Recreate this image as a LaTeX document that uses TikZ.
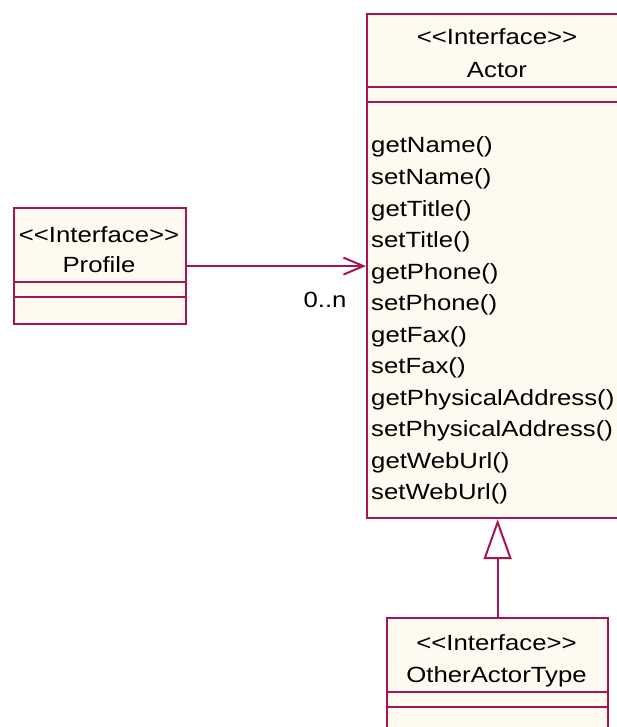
\documentclass[tikz,border=0pt]{standalone}
\usepackage{fontspec}
\setmainfont{Liberation Sans}[FakeStretch=1.17]
\usetikzlibrary{arrows.meta}
\definecolor{umlline}{RGB}{165,20,85}
\definecolor{umlfill}{RGB}{255,250,240}
% stereotype text without the TeX << >> ligatures
\newcommand{\stereo}[1]{<\kern0pt<#1>\kern0pt>}

\begin{document}
\begin{tikzpicture}[x=1pt,y=-1pt,
  classbox/.style={draw=umlline,fill=umlfill,line width=2.2pt,rectangle,
    inner sep=0pt,anchor=north west},
  sepline/.style={draw=umlline,line width=2.2pt},
  umltext/.style={inner sep=0pt,font=\fontsize{22}{26}\selectfont,text=black},
  assoc/.style={draw=umlline,line width=2pt,
    -{Straight Barb[length=20pt,width=17pt,line width=2pt]}},
  generalize/.style={draw=umlline,line width=2pt,
    -{Triangle[open,length=40pt,width=28pt,line width=2pt]}}
]
\useasboundingbox (0,0) rectangle (617,727);
\clip (0,0) rectangle (617,727);

% class boxes
\node[classbox,minimum width=262pt,minimum height=504pt] (actor) at (366,13) {};
\node[classbox,minimum width=172pt,minimum height=116pt] (profile) at (13,207) {};
\node[classbox,minimum width=221pt,minimum height=180pt] (other) at (386,617) {};

% compartment separators
\draw[sepline] ([yshift=-74pt]actor.north west) -- ([yshift=-74pt]actor.north east);
\draw[sepline] ([yshift=-89pt]actor.north west) -- ([yshift=-89pt]actor.north east);
\draw[sepline] ([yshift=-75pt]profile.north west) -- ([yshift=-75pt]profile.north east);
\draw[sepline] ([yshift=-90pt]profile.north west) -- ([yshift=-90pt]profile.north east);
\draw[sepline] ([yshift=-75pt]other.north west) -- ([yshift=-75pt]other.north east);
\draw[sepline] ([yshift=-90pt]other.north west) -- ([yshift=-90pt]other.north east);

% class headers
\node[umltext,anchor=base] (actorst) at (497,45) {\stereo{Interface}};
\node[umltext,anchor=base] (actorname) at (497,78) {Actor};
\node[umltext,anchor=base] (profilest) at (99,242) {\stereo{Interface}};
\node[umltext,anchor=base] (profilename) at (99,272) {Profile};
\node[umltext,anchor=base] (otherst) at (496.5,650) {\stereo{Interface}};
\node[umltext,anchor=base] (othername) at (496.5,682) {OtherActorType};

% operations of Actor
\foreach \op [count=\i from 0] in {getName(),setName(),getTitle(),setTitle(),
  getPhone(),setPhone(),getFax(),setFax(),getPhysicalAddress(),
  setPhysicalAddress(),getWebUrl(),setWebUrl()}
  \node[umltext,anchor=base west] (op\i) at (371,153+31.5*\i) {\op};

% association Profile -> Actor
\draw[assoc] (profile.east) -- (actor.west |- profile.east);
\node[umltext,anchor=base] (mult) at (325,307) {0..n};

% generalization OtherActorType -> Actor
\draw[generalize] (other.north) -- (other.north |- actor.south);
\end{tikzpicture}
\end{document}
